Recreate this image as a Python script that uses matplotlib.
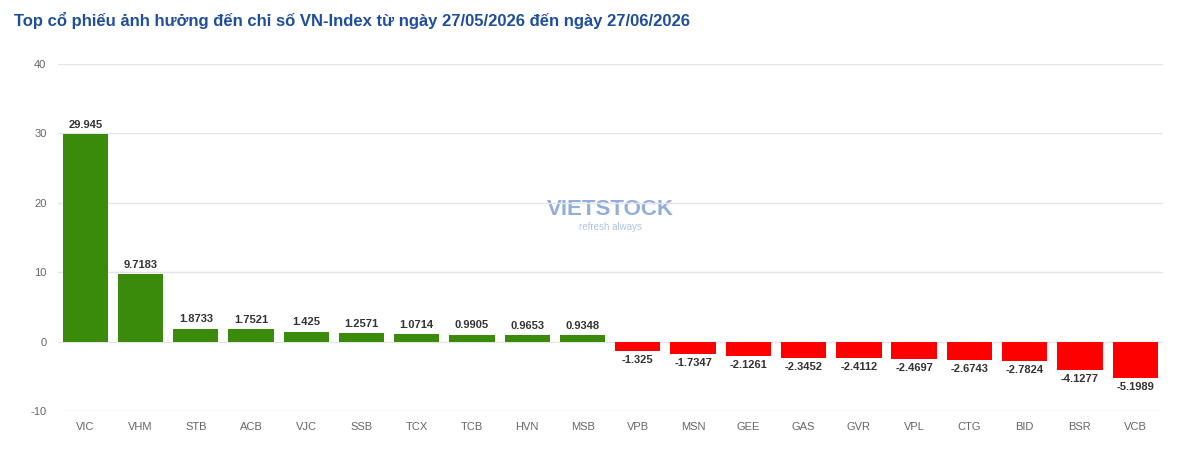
import matplotlib.pyplot as plt
import numpy as np

plt.rcParams["font.family"] = ["Liberation Sans", "DejaVu Sans"]
plt.rcParams["axes.unicode_minus"] = False

tickers = ["VIC", "VHM", "STB", "ACB", "VJC", "SSB", "TCX", "TCB", "HVN", "MSB",
           "VPB", "MSN", "GEE", "GAS", "GVR", "VPL", "CTG", "BID", "BSR", "VCB"]
impact = [29.945, 9.7183, 1.8733, 1.7521, 1.425, 1.2571, 1.0714, 0.9905, 0.9653, 0.9348,
          -1.325, -1.7347, -2.1261, -2.3452, -2.4112, -2.4697, -2.6743, -2.7824, -4.1277, -5.1989]
labels = ["29.945", "9.7183", "1.8733", "1.7521", "1.425", "1.2571", "1.0714", "0.9905", "0.9653", "0.9348",
          "-1.325", "-1.7347", "-2.1261", "-2.3452", "-2.4112", "-2.4697", "-2.6743", "-2.7824", "-4.1277", "-5.1989"]

fig = plt.figure(figsize=(12, 4.55), dpi=100)
ax = fig.add_axes([0.048, 0.097, 0.921, 0.762])

x = np.arange(len(tickers))
colors = ["#3a8a0c" if v >= 0 else "#ff0000" for v in impact]
bars = ax.bar(x, impact, width=0.82, color=colors, zorder=3)
for b, v, t in zip(bars, impact, labels):
    cx = b.get_x() + b.get_width() / 2
    if v >= 0:
        ax.text(cx, v + 0.6, t, ha="center", va="bottom", fontsize=8, fontweight="bold", color="#333333")
    else:
        ax.text(cx, v - 0.6, t, ha="center", va="top", fontsize=8, fontweight="bold", color="#333333")

ax.set_xlim(-0.5, len(tickers) - 0.5)
ax.set_ylim(-10, 40)
ax.set_yticks([-10, 0, 10, 20, 30, 40])
ax.set_xticks(x)
ax.set_xticklabels(tickers)
ax.tick_params(axis="both", length=0, labelsize=8, colors="#666666", pad=8)
ax.grid(True, axis="y", color="#e6e6e6", linewidth=1, zorder=0)
for s in ax.spines.values():
    s.set_visible(False)

ax.text(0.5, 0.58, "VIETSTOCK", transform=ax.transAxes, ha="center", va="center",
        fontsize=16, fontweight="bold", color="#4a78c0", alpha=0.6, zorder=1)
ax.text(0.5, 0.53, "refresh always", transform=ax.transAxes, ha="center", va="center",
        fontsize=7, color="#7a9ad0", alpha=0.6, zorder=1)

fig.text(0.012, 0.955, "Top cổ phiếu ảnh hưởng đến chỉ số VN-Index từ ngày 27/05/2026 đến ngày 27/06/2026",
         ha="left", va="center", fontsize=12, fontweight="bold", color="#1f4e9c")

fig.savefig("out.png", dpi=100)
